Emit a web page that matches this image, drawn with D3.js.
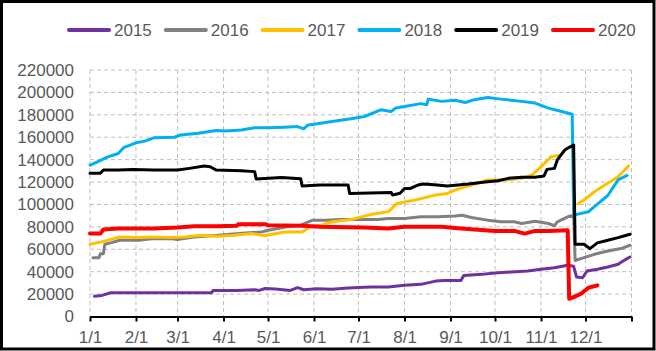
<!DOCTYPE html>
<html>
<head>
<meta charset="utf-8">
<script src="https://cdn.jsdelivr.net/npm/d3@7"></script>
<style>
  body { margin: 0; background: #fff; }
  svg { display: block; font-family: "Liberation Sans", Arial, sans-serif; }
  .axis text { fill: #595959; font-size: 17px; }
  .legend text { fill: #595959; font-size: 17px; }
</style>
</head>
<body>
<div id="chart-area"></div>
<script>
// series values: [month/day, value]
const s2015 = [
  ["1/4", 18000], ["1/9", 18800], ["1/15", 21200], ["2/15", 21200], ["3/24", 21200],
  ["3/25", 23300], ["4/10", 23300], ["4/22", 23900], ["4/25", 23300], ["4/29", 25000],
  ["5/6", 24500], ["5/16", 23300], ["5/21", 25700], ["5/25", 23900], ["6/3", 24800],
  ["6/13", 24300], ["6/24", 25400], ["7/5", 26000], ["7/10", 26300], ["7/21", 26300],
  ["8/1", 27800], ["8/12", 28700], ["8/22", 31600], ["8/28", 32200], ["9/8", 32200],
  ["9/10", 36700], ["9/22", 37600], ["10/1", 38800], ["10/12", 39700], ["10/23", 40600],
  ["11/1", 42100], ["11/10", 43600], ["11/19", 45700], ["11/23", 44800], ["11/25", 35200],
  ["11/29", 34600], ["12/2", 40600], ["12/9", 42100], ["12/16", 44200], ["12/23", 46600],
  ["12/27", 50100], ["12/31", 53100]
];
const s2016 = [
  ["1/3", 52500], ["1/7", 52500], ["1/8", 56000], ["1/10", 56000], ["1/11", 64500],
  ["1/15", 65700], ["1/21", 68000], ["2/3", 68000], ["2/13", 69500], ["2/24", 69500],
  ["3/1", 68700], ["3/12", 71000], ["3/28", 72500], ["4/16", 74600], ["4/27", 75500],
  ["5/1", 77000], ["5/14", 80000], ["5/23", 81500], ["5/31", 86000], ["6/9", 86000],
  ["6/18", 86600], ["7/14", 86600], ["7/21", 87500], ["8/1", 87500], ["8/12", 89000],
  ["8/23", 89000], ["9/4", 89600], ["9/9", 90400], ["9/15", 88400], ["9/26", 86000],
  ["10/5", 84500], ["10/14", 84500], ["10/19", 83000], ["10/28", 85000], ["11/6", 83000],
  ["11/10", 81000], ["11/12", 84500], ["11/19", 89000], ["11/23", 90400], ["11/24", 50000],
  ["11/30", 52500], ["12/7", 55500], ["12/16", 58500], ["12/25", 60600], ["12/31", 63600]
];
const s2017 = [
  ["1/1", 64500], ["1/9", 66600], ["1/21", 71000], ["2/1", 70400], ["2/12", 71000],
  ["2/23", 70400], ["3/6", 71000], ["3/17", 72500], ["3/28", 71600], ["4/8", 72500],
  ["4/20", 74000], ["4/29", 72000], ["5/12", 75500], ["5/24", 75500], ["5/30", 80600],
  ["6/6", 81500], ["6/13", 84500], ["6/26", 86600], ["7/5", 89600], ["7/10", 91300],
  ["7/21", 93400], ["7/27", 100900], ["8/8", 103900], ["8/22", 108400], ["8/30", 109800],
  ["9/4", 112800], ["9/15", 117300], ["9/26", 121800], ["10/7", 121800], ["10/19", 123300],
  ["10/26", 126300], ["11/1", 133700], ["11/8", 142700], ["11/13", 143600], ["11/20", null],
  ["11/26", 100900], ["11/30", 103900], ["12/7", 111300], ["12/14", 117300], ["12/23", 124800],
  ["12/30", 134300]
];
const s2018 = [
  ["1/1", 135000], ["1/6", 138000], ["1/13", 142500], ["1/20", 145500], ["1/24", 151000],
  ["2/1", 155000], ["2/7", 156500], ["2/13", 159500], ["2/27", 160000], ["3/3", 162000],
  ["3/15", 163500], ["3/27", 166000], ["4/2", 165500], ["4/13", 166500], ["4/22", 168500],
  ["5/1", 168500], ["5/12", 169000], ["5/21", 169500], ["5/25", 167500], ["5/28", 171000],
  ["6/1", 171500], ["6/13", 174000], ["6/26", 176500], ["7/5", 178500], ["7/16", 184500],
  ["7/23", 183000], ["7/26", 186000], ["8/1", 187500], ["8/12", 190000], ["8/16", 189000],
  ["8/17", 194000], ["8/26", 192000], ["9/4", 193000], ["9/11", 191000], ["9/17", 193500],
  ["9/26", 195500], ["10/5", 194000], ["10/19", 192000], ["10/28", 190500], ["11/6", 186000],
  ["11/15", 183000], ["11/22", 180500], ["11/23", 90500], ["12/3", 93500], ["12/7", 98000],
  ["12/16", 108000], ["12/23", 122000], ["12/29", 126000]
];
const s2019 = [
  ["1/1", 127800], ["1/8", 127800], ["1/10", 130700], ["1/20", 130700], ["1/30", 131300],
  ["2/13", 130700], ["3/1", 130700], ["3/9", 132200], ["3/19", 134300], ["3/23", 133700],
  ["3/27", 130700], ["4/13", 130000], ["4/22", 129300], ["4/23", 122700], ["5/10", 124000],
  ["5/23", 123000], ["5/24", 116400], ["6/5", 117300], ["6/24", 117300], ["6/25", 109700],
  ["7/23", 110700], ["7/24", 108400], ["7/29", 110000], ["8/1", 114300], ["8/5", 114300],
  ["8/10", 117300], ["8/14", 118200], ["8/23", 117300], ["8/30", 116400], ["9/13", 118200],
  ["9/26", 120300], ["10/3", 121200], ["10/10", 123300], ["10/19", 124200], ["10/28", 124200],
  ["11/3", 125400], ["11/5", 131300], ["11/10", 132200], ["11/12", 139700], ["11/17", 148600],
  ["11/20", 151000], ["11/23", 153100], ["11/24", 64500], ["11/30", 64500], ["12/4", 60600],
  ["12/9", 65700], ["12/16", 68000], ["12/23", 70400], ["12/31", 73400]
];
const s2020 = [
  ["1/1", 74000], ["1/8", 74000], ["1/10", 77600], ["1/20", 78500], ["2/13", 78500],
  ["3/1", 79400], ["3/12", 80600], ["3/28", 80600], ["4/10", 81000], ["4/11", 82400],
  ["4/29", 82400], ["5/1", 81500], ["5/24", 81000], ["6/5", 80000], ["7/5", 79400],
  ["7/21", 78500], ["8/1", 80000], ["8/26", 80000], ["9/4", 79000], ["9/15", 77900],
  ["10/1", 76400], ["10/14", 76400], ["10/21", 74000], ["10/28", 76400], ["11/6", 76400],
  ["11/19", 77000], ["11/20", 15800], ["11/23", 17300], ["11/28", 20300], ["12/3", 25700],
  ["12/9", 27800]
];

const years = ["2015", "2016", "2017", "2018", "2019", "2020"];
const seriesData = [s2015, s2016, s2017, s2018, s2019, s2020];
const monthLabels = ["1/1", "2/1", "3/1", "4/1", "5/1", "6/1", "7/1", "8/1", "9/1", "10/1", "11/1", "12/1", ""];
const yTicks = [0, 20000, 40000, 60000, 80000, 100000, 120000, 140000, 160000, 180000, 200000, 220000];

const colors = ["#7030A0", "#808080", "#FFC000", "#00B0F0", "#000000", "#FF0000"];
const widths = [3, 3, 3, 3, 3, 4];

const W = 656, H = 351;
const margin = { top: 70, right: 24.5, bottom: 34.5, left: 90 };
const width = W - margin.left - margin.right,
  height = H - margin.top - margin.bottom;

const parseDay = d3.timeParse("%m/%d");
const start = parseDay("1/1");
const end = d3.timeYear.offset(start, 1);

let svg = d3.select("#chart-area").append("svg")
  .attr("width", W)
  .attr("height", H);

let g = svg.append("g")
  .attr("transform", "translate(" + margin.left + "," + margin.top + ")");

let x = d3.scaleTime().domain([start, end]).range([0, width]);
let y = d3.scaleLinear().domain([0, 220000]).range([height, 0]);

const monthTicks = d3.timeMonth.range(start, end).concat([end]);

// GRID
g.append("g").selectAll("line.hgrid")
  .data(yTicks.slice(1))
  .enter().append("line")
  .attr("x1", 0).attr("x2", width)
  .attr("y1", d => y(d)).attr("y2", d => y(d))
  .attr("stroke", "#BFBFBF").attr("stroke-width", 1)
  .attr("stroke-dasharray", "4,3");

g.append("g").selectAll("line.vgrid")
  .data(monthTicks)
  .enter().append("line")
  .attr("x1", d => x(d)).attr("x2", d => x(d))
  .attr("y1", 0).attr("y2", height)
  .attr("stroke", "#BFBFBF").attr("stroke-width", 1)
  .attr("stroke-dasharray", "4,3");

// AXIS
let yAxis = d3.axisLeft(y).tickValues(yTicks).tickSize(0).tickPadding(16)
  .tickFormat(d3.format("d"));
let yAxisGroup = g.append("g").attr("class", "axis").call(yAxis);
yAxisGroup.select(".domain").remove();

let xAxis = d3.axisBottom(x).tickValues(monthTicks).tickSize(5).tickSizeOuter(0).tickPadding(9)
  .tickFormat((d, i) => monthLabels[i]);
let xAxisGroup = g.append("g").attr("class", "axis")
  .attr("transform", "translate(0," + height + ")")
  .call(xAxis);
xAxisGroup.select(".domain").attr("stroke", "#000").attr("stroke-width", 2);
xAxisGroup.selectAll(".tick line").attr("stroke", "#000").attr("stroke-width", 2);

// LINES
let line = d3.line()
  .defined(d => d[1] !== null)
  .x(d => x(parseDay(d[0])))
  .y(d => y(d[1]));

g.selectAll(".series")
  .data(seriesData)
  .enter().append("path")
  .attr("class", "series")
  .attr("d", line)
  .attr("fill", "none")
  .attr("stroke", (d, i) => colors[i])
  .attr("stroke-width", (d, i) => widths[i])
  .attr("stroke-linejoin", "round")
  .attr("stroke-linecap", "round");

// LEGEND
let legend = svg.append("g").attr("class", "legend")
  .attr("transform", "translate(69,30)");
let items = legend.selectAll("g")
  .data(years)
  .enter().append("g")
  .attr("transform", (d, i) => "translate(" + i * 96.8 + ",0)");
items.append("line")
  .attr("x1", 0).attr("x2", 40)
  .attr("stroke", (d, i) => colors[i])
  .attr("stroke-width", 4)
  .attr("stroke-linecap", "round");
items.append("text")
  .attr("x", 45)
  .attr("dy", "0.36em")
  .text(d => d);

// BORDER
svg.append("rect")
  .attr("x", 1.5).attr("y", 1.5)
  .attr("width", 652.5).attr("height", 347.5)
  .attr("fill", "none")
  .attr("stroke", "#000")
  .attr("stroke-width", 3);
</script>
</body>
</html>
